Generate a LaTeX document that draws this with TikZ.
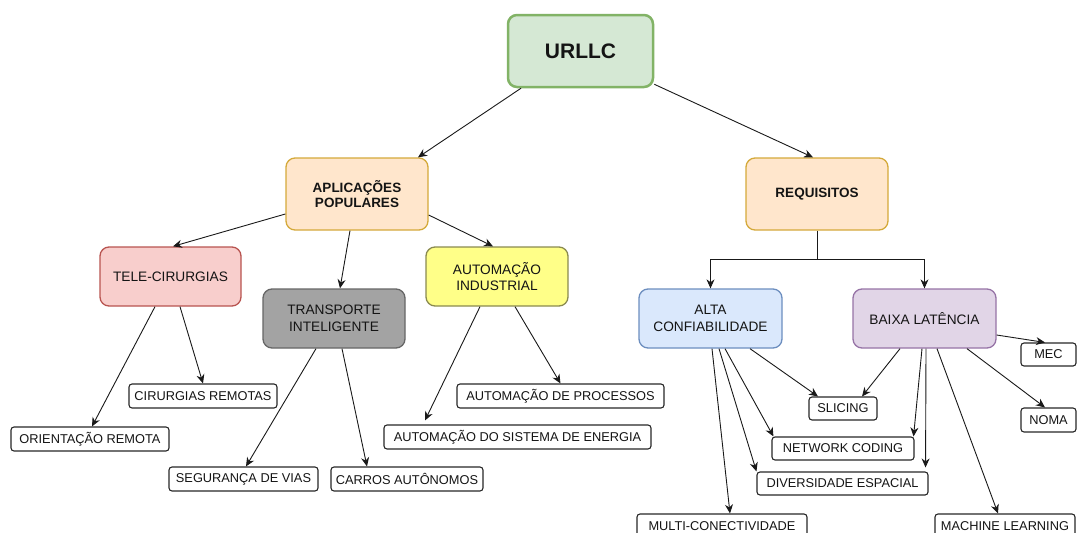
\documentclass[tikz,border=0pt]{standalone}
\usepackage{fontspec}
\setmainfont{Liberation Sans}
\usetikzlibrary{arrows.meta}
\definecolor{txt}{HTML}{141414}
\definecolor{gfill}{HTML}{D5E8D4}\definecolor{gdraw}{HTML}{82B366}
\definecolor{ofill}{HTML}{FFE6CC}\definecolor{odraw}{HTML}{D4A93A}
\definecolor{rfill}{HTML}{F8CECC}\definecolor{rdraw}{HTML}{B85450}
\definecolor{kfill}{HTML}{A3A3A3}\definecolor{kdraw}{HTML}{666666}
\definecolor{yfill}{HTML}{FFFF88}\definecolor{ydraw}{HTML}{8A8A50}
\definecolor{bfill}{HTML}{DAE8FC}\definecolor{bdraw}{HTML}{6C8EBF}
\definecolor{pfill}{HTML}{E1D5E7}\definecolor{pdraw}{HTML}{9673A6}
\tikzset{
  bigbox/.style={rounded corners=9pt, line width=1.3pt, inner sep=0pt, align=center,
     text=txt, font=\fontsize{13.7}{16.5}\selectfont},
  lbl/.style={draw=black!85, rounded corners=3pt, line width=1.1pt, inner sep=0pt,
     minimum height=24pt, text=txt, font=\fontsize{12.8}{15}\selectfont},
  arr/.style={draw=black!90, line width=0.9pt, -{Stealth[length=9pt,width=8pt]}},
}
\begin{document}
\begin{tikzpicture}[x=1pt,y=-1pt]
\useasboundingbox (0,0) rectangle (1077,533);
% main boxes
\node[bigbox, draw=gdraw, fill=gfill, line width=2.5pt, minimum width=145pt, minimum height=72pt,
      font=\fontsize{21}{24}\selectfont\bfseries] (urllc) at (580.5,51) {URLLC};
\node[bigbox, draw=odraw, fill=ofill, minimum width=142pt, minimum height=72pt,
      font=\fontsize{13.5}{15.7}\selectfont\bfseries] (apl) at (357,194) {APLICAÇÕES\\POPULARES};
\node[bigbox, draw=odraw, fill=ofill, minimum width=142pt, minimum height=72pt,
      font=\fontsize{13.5}{15.7}\selectfont\bfseries] (req) at (817,194) {REQUISITOS};
\node[bigbox, draw=rdraw, fill=rfill, minimum width=141pt, minimum height=59pt] (tele) at (170.5,276.5) {TELE-CIRURGIAS};
\node[bigbox, draw=kdraw, fill=kfill, minimum width=142pt, minimum height=59pt] (trans) at (334,318.5) {TRANSPORTE\\INTELIGENTE};
\node[bigbox, draw=ydraw, fill=yfill, minimum width=142pt, minimum height=59pt] (auto) at (497,276.5) {AUTOMAÇÃO\\INDUSTRIAL};
\node[bigbox, draw=bdraw, fill=bfill, minimum width=143pt, minimum height=59pt] (alta) at (710.5,318.5) {ALTA\\CONFIABILIDADE};
\node[bigbox, draw=pdraw, fill=pfill, minimum width=143pt, minimum height=59pt] (baixa) at (924.5,318.5) {BAIXA LATÊNCIA};
% leaf labels
\node[lbl, minimum width=148pt] (cir) at (203,396) {CIRURGIAS REMOTAS};
\node[lbl, minimum width=158pt] (ori) at (90,439) {ORIENTAÇÃO REMOTA};
\node[lbl, minimum width=149pt] (seg) at (243.5,479) {SEGURANÇA DE VIAS};
\node[lbl, minimum width=152pt] (car) at (407,479) {CARROS AUTÔNOMOS};
\node[lbl, minimum width=207pt] (proc) at (560.5,396) {AUTOMAÇÃO DE PROCESSOS};
\node[lbl, minimum width=267pt] (energ) at (517.5,437) {AUTOMAÇÃO DO SISTEMA DE ENERGIA};
\node[lbl, minimum width=68pt, minimum height=23pt] (sli) at (843,408.5) {SLICING};
\node[lbl, minimum width=142pt, minimum height=23pt] (net) at (843,448.5) {NETWORK CODING};
\node[lbl, minimum width=171pt, minimum height=23pt] (div) at (842.5,483.5) {DIVERSIDADE ESPACIAL};
\node[lbl, minimum width=170pt] (multi) at (722,526) {MULTI-CONECTIVIDADE};
\node[lbl, minimum width=140pt] (ml) at (1005,526) {MACHINE LEARNING};
\node[lbl, minimum width=55pt, minimum height=23pt] (mec) at (1048.5,354.5) {MEC};
\node[lbl, minimum width=55pt] (noma) at (1048.5,420) {NOMA};
% connectors
\draw[arr] ([xshift=-59.5pt]urllc.south) -- ([xshift=61pt]apl.north);
\draw[arr] ([yshift=4pt]urllc.south east) -- ([xshift=-4pt]req.north);
\draw[arr] ([yshift=-20pt]apl.west) -- ([xshift=2.5pt]tele.north);
\draw[arr] ([xshift=-7pt]apl.south) -- ([xshift=6pt]trans.north);
\draw[arr] ([yshift=-21pt]apl.east) -- ([xshift=-4pt]auto.north);
\draw[arr] ([xshift=-15.5pt]tele.south) -- ([xshift=2pt]ori.north);
\draw[arr] ([xshift=9.5pt]tele.south) -- (cir.north);
\draw[arr] ([xshift=-18pt]trans.south) -- ([xshift=2.5pt]seg.north);
\draw[arr] ([xshift=8pt]trans.south) -- ([xshift=-40pt]car.north);
\draw[arr] ([xshift=-17pt]auto.south) -- ([xshift=-92.5pt,yshift=4pt]energ.north);
\draw[arr] ([xshift=18pt]auto.south) -- (proc.north);
\coordinate (j) at ([yshift=-29pt]req.south);
\draw[line width=0.9pt, draw=black!90] (req.south) -- (j);
\draw[arr] (j) -| (alta.north);
\draw[arr] (j) -| (baixa.north);
\draw[arr] ([xshift=39.5pt]alta.south) -- ([xshift=-25pt]sli.north);
\draw[arr] ([xshift=14.5pt]alta.south) -- ([xshift=2pt]net.north west);
\draw[arr] ([xshift=8.5pt]alta.south) -- (div.north west);
\draw[arr] ([xshift=1.5pt]alta.south) -- ([xshift=8pt]multi.north);
\draw[arr] ([xshift=-24.5pt]baixa.south) -- ([xshift=19pt]sli.north);
\draw[arr] ([xshift=-2.5pt]baixa.south) -- ([xshift=-1pt]net.north east);
\draw[arr] ([xshift=1.5pt]baixa.south) -- ([xshift=-3pt,yshift=4pt]div.north east);
\draw[arr] ([xshift=12.5pt]baixa.south) -- ([xshift=-7pt]ml.north);
\draw[arr] ([yshift=-16.5pt]baixa.east) -- ([xshift=-3.5pt]mec.north);
\draw[arr] ([xshift=42.5pt]baixa.south) -- ([xshift=-3.5pt]noma.north);
\end{tikzpicture}
\end{document}
